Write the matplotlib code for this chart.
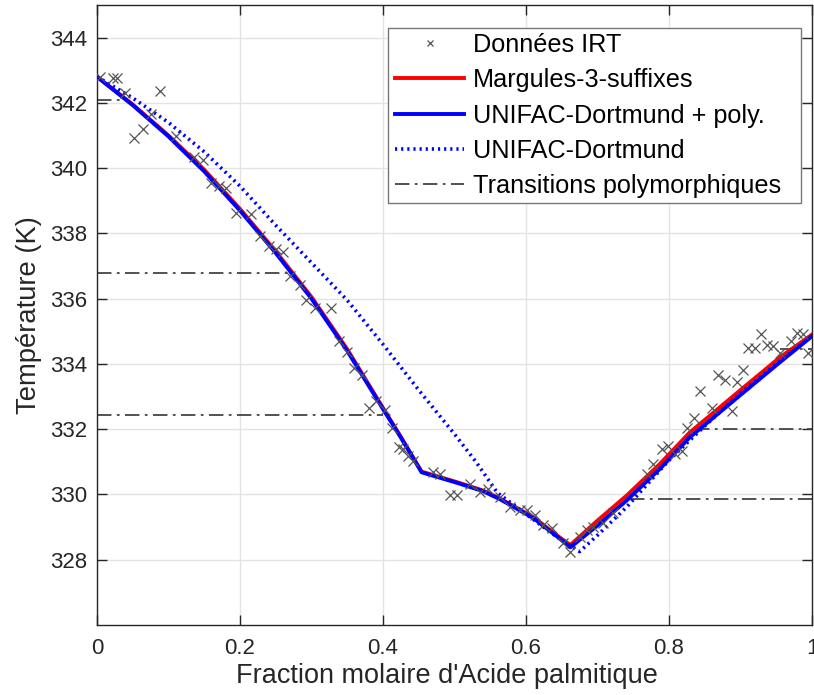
import matplotlib
matplotlib.use("Agg")
import matplotlib.pyplot as plt
from matplotlib.patches import Rectangle
import numpy as np

plt.rcParams['font.family'] = ['Liberation Sans', 'DejaVu Sans']

# Experimental data (Données IRT)
irt_x = [0.004, 0.023, 0.028, 0.039, 0.088, 0.052, 0.064, 0.075, 0.110, 0.135, 0.148, 0.159,
         0.171, 0.181, 0.195, 0.216, 0.228, 0.240, 0.250, 0.260, 0.270, 0.284, 0.293, 0.305,
         0.327, 0.338, 0.350, 0.360, 0.370, 0.381, 0.390, 0.403, 0.412, 0.423, 0.428, 0.435,
         0.442, 0.470, 0.480, 0.494, 0.503, 0.522, 0.536, 0.547, 0.564, 0.578, 0.592, 0.601,
         0.613, 0.624, 0.636, 0.652, 0.662, 0.676, 0.685, 0.694, 0.708, 0.722, 0.769, 0.778,
         0.790, 0.799, 0.808, 0.818, 0.825, 0.835, 0.843, 0.860, 0.869, 0.878, 0.888, 0.895,
         0.903, 0.911, 0.920, 0.929, 0.937, 0.946, 0.955, 0.970, 0.979, 0.987, 0.995]
irt_T = [342.79, 342.75, 342.75, 342.29, 342.35, 340.93, 341.19, 341.66, 340.99, 340.35, 340.25, 339.54,
         339.46, 339.39, 338.63, 338.61, 337.92, 337.62, 337.51, 337.43, 336.68, 336.42, 335.95, 335.70,
         335.71, 334.70, 334.38, 333.89, 333.67, 332.65, 332.86, 332.60, 332.05, 331.44, 331.39, 331.19,
         331.04, 330.68, 330.63, 329.97, 329.97, 330.33, 330.08, 330.18, 329.92, 329.62, 329.52, 329.52,
         329.37, 329.06, 328.96, 328.51, 328.25, 328.71, 328.91, 329.01, 329.12, 329.42, 330.63, 330.94,
         331.39, 331.49, 331.24, 331.34, 332.05, 332.33, 333.18, 332.65, 333.67, 333.52, 332.56, 333.45,
         333.80, 334.50, 334.48, 334.92, 334.58, 334.55, 334.33, 334.70, 334.96, 334.93, 334.33]

# Margules-3-suffixes
marg_x = [0.0, 0.05, 0.1, 0.15, 0.2, 0.25, 0.3, 0.35, 0.4, 0.424, 0.454, 0.503, 0.54, 0.564,
          0.61, 0.643, 0.662, 0.7, 0.741, 0.787, 0.829, 0.9, 0.955, 1.0]
marg_T = [342.8, 341.95, 341.0, 339.95, 338.75, 337.45, 336.05, 334.45, 332.65, 331.8, 330.7,
          330.38, 330.12, 329.87, 329.31, 328.75, 328.45, 329.2, 329.97, 330.93, 331.9, 333.2,
          334.2, 334.9]

# UNIFAC-Dortmund + poly.
udp_x = [0.0, 0.05, 0.1, 0.15, 0.2, 0.25, 0.3, 0.35, 0.4, 0.424, 0.454, 0.503, 0.54, 0.564,
         0.61, 0.643, 0.662, 0.7, 0.741, 0.787, 0.829, 0.9, 0.955, 1.0]
udp_T = [342.8, 341.93, 340.97, 339.9, 338.7, 337.4, 336.0, 334.4, 332.62, 331.78, 330.68,
         330.36, 330.1, 329.85, 329.28, 328.72, 328.38, 329.05, 329.82, 330.78, 331.75, 333.05,
         334.05, 334.85]

# UNIFAC-Dortmund
ud_x = [0.0, 0.05, 0.1, 0.15, 0.2, 0.25, 0.3, 0.35, 0.4, 0.45, 0.5, 0.53, 0.56, 0.6, 0.64,
        0.675, 0.7, 0.741, 0.8, 0.85, 0.9, 0.95, 1.0]
ud_T = [342.8, 342.15, 341.4, 340.5, 339.45, 338.25, 337.1, 335.95, 334.6, 333.2, 331.85,
        331.0, 330.05, 329.4, 328.75, 328.25, 328.75, 329.62, 331.05, 332.1, 333.1, 334.0, 334.85]

# Polymorphic transitions (temperature, x start, x end)
trans_T = [342.1, 336.8, 332.45, 334.45, 332.0, 329.85]
trans_x0 = [0.0, 0.0, 0.0, 0.955, 0.836, 0.745]
trans_x1 = [0.035, 0.27, 0.40, 1.0, 1.0, 1.0]

W, H = 814, 695
fig = plt.figure(figsize=(W/100, H/100), dpi=100)
ax = fig.add_axes([97/W, 70/H, 715/W, 620/H])

ax.plot(marg_x, marg_T, color='#ff0000', lw=2.8, label='Margules-3-suffixes', zorder=3)
ax.plot(udp_x, udp_T, color='#0000ff', lw=2.8, label='UNIFAC-Dortmund + poly.', zorder=4)
ax.plot(ud_x, ud_T, color='#0000ff', lw=2.6, ls=(0, (0.6, 1.1)), label='UNIFAC-Dortmund',
        zorder=4)
for i, (T, a, b) in enumerate(zip(trans_T, trans_x0, trans_x1)):
    ax.plot([a, b], [T, T], color='#444444', lw=1.3, ls=(0, (8, 3, 1.5, 3)),
            label='Transitions polymorphiques' if i == 0 else None, zorder=2)
ax.plot(irt_x, irt_T, ls='none', marker='x', ms=6.5, mew=0.9, color='#555555',
        label='Données IRT', zorder=5)

ax.set_xlim(0, 1)
ax.set_ylim(326, 345)
ax.set_xticks([0, 0.2, 0.4, 0.6, 0.8, 1])
ax.set_xticklabels(['0', '0.2', '0.4', '0.6', '0.8', '1'])
ax.set_yticks(np.arange(328, 345, 2))
ax.grid(True, color='#e3e3e3', lw=1.0, zorder=0)
ax.set_axisbelow(True)
ax.tick_params(direction='in', length=7, width=1, colors='#262626', labelsize=16,
               top=True, right=True)
ax.tick_params(axis='y', pad=7)
ax.tick_params(axis='x', pad=9)
for s in ax.spines.values():
    s.set_color('#262626')
    s.set_linewidth(1.0)

ax.set_xlabel("Fraction molaire d'Acide palmitique", fontsize=19.5, color='#262626')
ax.xaxis.set_label_coords(0.49, -0.061)
ax.set_ylabel("Température (K)", fontsize=19.7, color='#262626', labelpad=6)

# legend frame (MATLAB-like, wider right padding)
ax.add_patch(Rectangle((388/W, 1 - 203/H), 413/W, 175/H, transform=fig.transFigure,
                       facecolor='white', edgecolor='#777777', lw=1.0, zorder=5.5,
                       clip_on=False))

handles, labels = ax.get_legend_handles_labels()
order = ['Données IRT', 'Margules-3-suffixes', 'UNIFAC-Dortmund + poly.', 'UNIFAC-Dortmund',
         'Transitions polymorphiques']
hd = dict(zip(labels, handles))
leg = ax.legend([hd[k] for k in order], order, loc='upper left',
                bbox_to_anchor=(391/W, 1 - 29/H), bbox_transform=fig.transFigure,
                fontsize=18.2, frameon=False, handlelength=2.75, handletextpad=0.35,
                labelspacing=0.45, borderpad=0.15, borderaxespad=0, markerscale=0.7)
leg.set_zorder(6)

fig.savefig('out.png', dpi=100)
